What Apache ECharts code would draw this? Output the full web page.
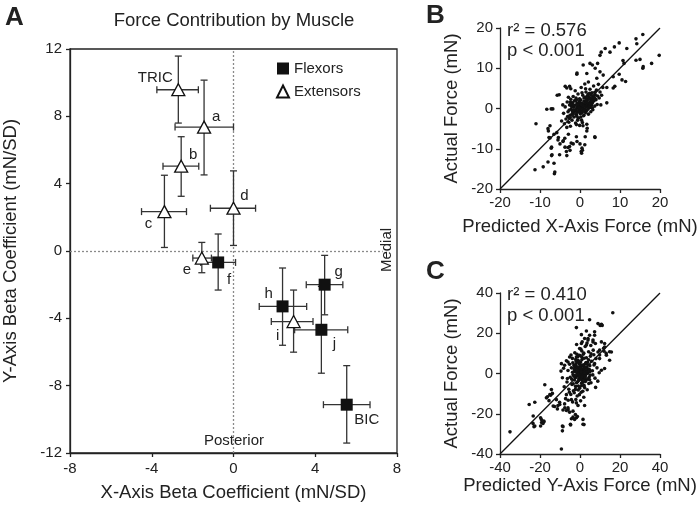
<!DOCTYPE html>
<html><head><meta charset="utf-8">
<script src="https://cdn.jsdelivr.net/npm/echarts/dist/echarts.min.js"></script>
<style>html,body{margin:0;padding:0;background:#fff}#c{width:699px;height:506px}</style>
</head><body><div id="c"></div>
<script>
// ---------- Panel A: beta coefficients per muscle ----------
const muscles     = ['TRIC','a','b','c','d','e','f','g','h','i','j','BIC'];
const muscleGroup = ['Extensors','Extensors','Extensors','Extensors','Extensors','Extensors','Flexors','Flexors','Flexors','Extensors','Flexors','Flexors'];
const betaX       = [-2.70,-1.44,-2.56,-3.38, 0.00,-1.55,-0.75, 4.46, 2.40, 2.94, 4.30, 5.54];
const betaY       = [ 9.58, 7.36, 5.04, 2.34, 2.54,-0.42,-0.68,-2.00,-3.29,-4.19,-4.68,-9.13];
const betaXLow    = [-3.75,-2.86,-3.45,-4.50,-1.13,-1.99,-1.60, 3.56, 1.26, 1.85, 2.99, 4.40];
const betaXHigh   = [-1.72, 0.00,-1.70,-2.30, 1.08,-1.08, 0.10, 5.35, 3.58, 3.89, 5.59, 6.68];
const betaYLow    = [ 7.60, 4.52, 3.25, 0.21, 0.33,-1.29,-2.32,-3.79,-5.60,-6.01,-7.26,-11.41];
const betaYHigh   = [11.58,10.15, 6.79, 4.50, 4.76, 0.51, 1.01,-0.26,-1.01,-2.32,-2.10,-6.81];
const axisATicks  = [-8,-4,0,4,8];
const axisAYTicks = [-12,-8,-4,0,4,8,12];

// ---------- Panel B: predicted vs actual X-axis force (mN) ----------
const panelBPoints = [
[15.7,18.4],[14.0,17.3],[14.2,16.1],[9.8,16.3],[11.7,14.9],[8.6,15.3],[7.5,14.0],[6.3,14.9],[5.3,14.0],[11.0,11.2],
[15.0,12.2],[14.0,12.0],[19.8,13.2],[17.9,11.2],[15.7,10.0],[11.4,6.7],[9.8,8.5],[8.3,7.9],[8.3,5.1],[6.7,5.2],
[6.7,1.4],[5.0,13.2],[3.1,10.8],[2.5,11.2],[4.4,11.2],[3.8,10.0],[0.8,10.8],[-0.8,8.5],[1.7,8.7],[5.0,9.1],
[5.8,8.3],[4.2,7.5],[-3.3,5.1],[-2.3,4.9],[-5.7,3.3],[-8.3,-0.2],[-11.0,-3.8],[-7.5,-4.3],[-7.9,-5.6],[-7.5,-7.3],
[-6.5,-6.4],[-5.8,-6.0],[-7.1,-9.6],[-7.1,-11.7],[-6.5,-13.6],[-6.4,-16.2],[-6.3,-15.8],[-9.2,-14.5],[-11.25,-15.2],[-3.3,-11.7],
[-2.5,-10.4],[0.6,-10.4],[0.4,-11.1],[-3.75,-9.6],[-5.0,-8.8],[-1.7,-8.8],[0.0,-8.8],[3.75,-7.2],[1.7,-5.6],[1.7,-3.9],
[-4.2,-8.0],[-5.4,-7.2],[-2.9,-6.4],[-3.3,-4.7],[-4.6,-3.1],[10.75,11.9],[15.8,10.4],[8.7,5.5],[10.5,7.1],[-0.75,8.8],
[-3.7,5.5],[-2.6,5.5],[-5.2,3.4],[-6.8,-0.1],[-4.3,0.9],[-7.2,-0.1],[-8.0,-5.0],[-7.75,-7.2],[-7.2,-9.85],[-7.0,-11.5],
[-5.1,-11.5],[-8.0,-13.3],[-3.4,-10.7],[-3.0,-9.7],[-2.6,-9.45],[-2.2,-8.6],[-3.8,-7.4],[-5.5,-7.8],[-4.25,-8.2],[-0.9,-7.0],
[-0.75,-8.2],[0.3,-10.7],[0.5,-9.85],[1.2,-9.0],[1.3,-7.0],[3.7,-7.0],[1.8,-4.9],[0.75,-4.3],[-0.1,-4.2],
[-4.1,-1.2],[-3.7,0.4],[-3.5,-2.6],[-3.2,1.6],[-3.0,-0.8],[-2.8,-3.4],[-2.6,0.9],[-2.5,-1.7],[-2.3,2.3],[-2.2,-0.2],
[-2.0,-2.9],[-1.9,1.4],[-1.8,-1.1],[-1.7,3.0],[-1.6,0.3],[-1.5,-2.1],[-1.4,1.9],[-1.3,-0.6],[-1.2,0.8],[-1.1,-3.6],
[-1.0,2.6],[-0.9,-1.5],[-0.8,0.1],[-0.7,1.3],[-0.6,-0.9],[-0.5,3.6],[-0.4,-2.4],[-0.3,0.6],[-0.2,1.7],[-0.1,-0.4],
[0.0,0.9],[0.1,-1.3],[0.2,2.1],[0.3,0.2],[0.4,-2.9],[0.5,1.2],[0.6,-0.6],[0.7,3.3],[0.8,0.5],[0.9,-1.8],
[1.0,1.8],[1.1,-0.2],[1.2,2.7],[1.3,0.9],[1.4,-1.0],[1.5,4.1],[1.6,1.4],[1.7,-0.5],[1.8,2.3],[1.9,0.6],
[2.0,3.5],[2.1,-1.4],[2.2,1.1],[2.3,2.9],[2.4,0.2],[2.5,4.8],[2.6,1.7],[2.7,-0.8],[2.8,2.4],[2.9,0.9],
[3.0,3.9],[3.1,1.4],[3.2,-0.3],[3.3,2.9],[3.4,5.6],[3.5,1.9],[3.7,0.6],[3.8,3.4],[4.0,2.2],[4.1,4.6],
[4.3,1.0],[4.4,3.1],[4.6,6.0],[4.8,2.6],[5.0,4.1],[5.2,0.9],[5.4,3.3],[5.7,5.2],[-3.9,-3.8],[-2.4,-4.4],
[-0.9,-4.0],[0.6,-3.5],[-2.9,2.8],[-1.2,4.4],[0.3,5.2],[1.2,6.1],[2.1,6.6],[-0.3,-0.1],[0.4,0.4],[0.9,1.0],
[1.5,0.3],[0.0,-0.3],[-0.6,0.4],[0.2,0.8],[1.1,0.7],[-0.2,-0.9],[0.7,-0.1],[1.8,1.2],[2.3,0.7],[-1.0,-0.3],
[0.5,-1.0],[-0.4,1.2],[1.3,1.5],[2.6,0.4],[3.0,2.1],[-1.5,-0.8],[-2.1,0.5],
[-2.7,-0.4],[-2.4,1.6],[-2.0,-1.4],[-1.7,0.9],[-1.4,-0.4],[-1.1,1.9],[-0.8,-1.9],[-0.5,1.0],[-0.2,0.2],[0.1,1.4],
[0.4,-0.8],[0.7,0.7],[1.0,2.6],[1.3,-0.3],[1.6,2.0],[1.9,1.5],[2.2,2.4],[2.5,1.1],[2.8,3.4],[3.1,0.2],
[3.4,2.2],[3.7,4.0],[-3.1,-2.0],[-2.6,-2.4],[-0.6,-2.9],[0.2,-2.1],[1.0,-1.6],[2.0,-0.1],[0.5,3.9],[1.4,4.9],
[-0.9,2.2],[0.3,1.0],[1.7,3.0],[2.9,1.8],[-1.9,-0.6],[0.9,-0.6],[-0.1,2.4],[2.4,3.8],[3.6,2.7],[-2.2,1.1]
];
const panelBTicks = [-20,-10,0,10,20];

// ---------- Panel C: predicted vs actual Y-axis force (mN) ----------
const panelCPoints = [
[16.4,30.2],[4.8,26.7],[-1.8,22.8],[10.1,23.9],[11.1,23.9],[0.7,19.3],[3.2,21.1],[4.0,17.4],[7.3,19.0],[6.5,15.7],
[12.3,14.9],[11.8,12.5],[14.8,10.8],[13.1,10.0],[9.8,11.6],[9.8,9.2],[-17.6,-5.6],[-14.3,-8.0],[-15.1,-10.5],[-16.8,-12.1],
[-11.8,-13.0],[-13.4,-16.2],[-22.6,-14.3],[-25.4,-15.4],[-35.0,-29.0],[-23.4,-21.1],[-22.6,-26.1],[-19.7,-22.0],[-19.2,-24.4],[-18.1,-23.6],
[-9.3,-37.5],[-8.8,-26.1],[-8.8,-28.5],[-3.5,-18.7],[-2.7,-22.8],[-1.8,-22.0],[-4.8,-25.2],[1.5,-22.8],[1.5,-25.2],[-7.6,-17.0],
[-6.0,-17.9],[-10.1,-15.4],[-4.3,-13.0],[-1.8,-14.6],[-6.8,-10.5],
[10.7,24.5],[9.0,24.8],[7.3,20.7],[4.8,19.0],[4.0,16.6],[3.2,14.1],[0.7,14.9],[-0.2,12.4],[2.3,17.4],[6.5,16.6],
[7.7,14.9],[10.7,15.7],[12.3,13.2],[12.0,11.1],[15.7,10.7],[13.2,9.1],[9.0,10.7],[-5.2,8.2],[-6.0,5.7],[-9.3,4.9],
[-7.7,4.1],[-1.8,8.2],[-1.0,6.6],[-2.7,3.3],[2.3,2.5],[7.3,4.9],[9.8,7.4],[10.7,1.6],[12.3,2.5],[14.8,6.6],
[-16.3,-11.6],[-14.7,-10.8],[-13.8,-9.9],[-15.5,-13.5],[-12.7,-16.4],[-11.0,-15.9],[-10.2,-14.3],[-11.3,-17.6],[-8.5,-18.1],[-6.8,-18.4],
[-6.0,-17.1],[-5.2,-19.2],[-7.7,-15.1],[-3.5,-21.7],[-2.3,-20.4],[-1.3,-21.4],[-4.3,-22.5],[2.3,-15.9],[-1.0,-15.9],[-23.5,-24.8],
[-23.0,-26.4],[-19.3,-22.9],[-19.7,-26.1],[-18.5,-24.8],[-18.0,-24.0],[-8.5,-26.4],[-4.7,-25.6],[2.0,-25.4],
[-6.5,-4.2],[-6.0,1.5],[-5.6,-7.8],[-5.2,4.6],[-4.9,-1.9],[-4.6,-10.4],[-4.3,2.8],[-4.0,-5.5],[-3.8,7.5],[-3.5,-0.6],
[-3.3,-8.6],[-3.0,4.1],[-2.8,-3.2],[-2.6,10.3],[-2.4,0.9],[-2.2,-6.4],[-2.0,6.2],[-1.8,-1.5],[-1.6,2.7],[-1.4,-11.2],
[-1.2,-4.1],[-1.0,8.4],[-0.8,0.3],[-0.6,-2.6],[-0.4,4.9],[-0.2,-7.3],[0.0,1.8],[0.2,-0.9],[0.4,12.1],[0.6,3.6],
[0.8,-4.8],[1.0,6.9],[1.2,0.6],[1.4,-2.2],[1.6,9.6],[1.8,2.4],[2.0,-5.9],[2.2,4.5],[2.4,-0.5],[2.6,13.4],
[2.8,1.2],[3.0,-3.4],[3.2,7.8],[3.4,3.1],[3.6,-8.1],[3.8,5.6],[4.0,0.2],[4.3,10.8],[4.6,-1.8],[4.9,3.9],
[5.2,8.6],[5.5,-4.6],[5.8,6.1],[6.2,1.4],[6.6,11.6],[7.0,4.2],[7.5,-2.3],[8.0,7.4],[8.5,2.8],[-7.2,-12.5],
[-5.9,-13.3],[-3.7,-14.1],[-2.1,-12.9],[0.3,-13.6],[1.9,-11.8],[-6.8,6.3],[-4.5,9.2],[-1.7,14.4],[1.1,15.8],[3.5,15.1],
[5.4,13.9],[-0.5,0.7],[0.5,-0.4],[1.3,1.9],[-1.1,-0.8],[-0.3,2.5],[0.9,0.1],[-0.9,1.3],[0.1,-1.7],[1.7,-0.9],
[-1.5,0.2],[0.7,1.1],[-0.1,3.3],[2.1,0.9],[-2.3,-2.1],[1.5,3.8],[-0.7,-3.5],[2.7,-1.1],[0.3,5.7],[-1.9,3.6],
[3.3,-0.1],[-2.7,1.9],[1.0,-3.1],[2.5,2.9],[-3.1,-1.3],[0.0,0.0],[0.6,2.2],[-0.4,-1.2],[1.8,-2.8],[-1.3,5.8],
[3.9,2.1],[-4.1,-2.8],[2.9,5.2],[-0.2,9.1],[4.4,-5.0],[-5.3,-9.3],[5.0,1.0],[-2.9,-9.6],[1.4,-8.8],[-3.6,5.3],
[6.4,-0.7],[-0.8,-6.2],[0.8,8.3],[-6.3,-2.5],[2.3,-7.0],[-8.8,-2.1],[-9.5,1.2],[-7.9,-6.6],[8.9,-3.8],[9.6,0.4],
[7.8,-6.9],[-8.2,2.6],[6.9,9.3],
[-3.4,-5.1],[-2.9,2.2],[-2.5,-1.0],[-2.1,7.1],[-1.7,-4.6],[-1.3,3.1],[-0.9,-8.2],[-0.5,6.0],[-0.1,-2.9],[0.3,2.6],
[0.7,-6.1],[1.1,4.2],[1.5,-1.1],[1.9,10.1],[2.3,0.4],[2.7,-4.0],[3.1,5.5],[3.5,1.0],[3.9,-2.6],[4.3,6.8],
[4.7,2.0],[5.1,-0.8],[5.5,9.8],[-3.7,0.6],[-0.3,-10.5],[0.9,11.2],[-1.5,9.6],[2.1,7.6],[-2.3,-7.9],[1.3,-4.4],
[0.0,4.4],[-0.7,-0.4],[0.4,0.9],[1.0,-1.6],[-1.2,1.6],[2.6,-2.1],[3.6,4.6],[-2.0,4.8],[0.6,-9.3],[4.8,-3.1]
];
const panelCTicks = [-40,-20,0,20,40];

// ---------- styling ----------
const FF = "'Liberation Sans', Arial, Helvetica, sans-serif";
const INK = '#222';
const labelOffsets = {
  TRIC:[-23,-12], a:[12,-10], b:[12,-11], c:[-16,12], d:[11,-12], e:[-15,12],
  f:[11,17], g:[14,-13], h:[-14,-13], i:[-16,14], j:[13,14], BIC:[20,15]
};

function axisStyle(ticks, fontSize, margin) {
  return {
    type:'value', min:ticks[0], max:ticks[ticks.length-1], interval:ticks[1]-ticks[0],
    axisLine:{show:true, onZero:false, lineStyle:{color:INK, width:1.3}},
    axisTick:{show:true, inside:false, length:4, lineStyle:{color:INK, width:1.3}},
    axisLabel:{show:true, fontSize, color:INK, fontFamily:FF, margin},
    splitLine:{show:false},
    nameLocation:'middle',
    nameTextStyle:{fontSize:18.5, color:INK, fontFamily:FF}
  };
}

const errData = muscles.map((m,i)=>[betaX[i],betaY[i],betaXLow[i],betaXHigh[i],betaYLow[i],betaYHigh[i]]);
function groupData(g) {
  return muscles.map((m,i)=>i).filter(i=>muscleGroup[i]===g).map(i=>({
    name: muscles[i], value:[betaX[i],betaY[i]],
    label:{offset:labelOffsets[muscles[i]]}
  }));
}
const pointLabel = {show:true, position:'inside', formatter:'{b}', color:INK, fontSize:15, fontFamily:FF};

function renderErr(params, api) {
  const x = api.value(0), y = api.value(1);
  const l = api.coord([api.value(2), y]), r = api.coord([api.value(3), y]);
  const lo = api.coord([x, api.value(4)]), hi = api.coord([x, api.value(5)]);
  const c = 3.5;
  const st = {stroke:'#333', lineWidth:1.3, fill:null};
  const ln = (x1,y1,x2,y2)=>({type:'line', shape:{x1,y1,x2,y2}, style:st});
  return {type:'group', children:[
    ln(l[0],l[1],r[0],r[1]), ln(l[0],l[1]-c,l[0],l[1]+c), ln(r[0],r[1]-c,r[0],r[1]+c),
    ln(lo[0],lo[1],hi[0],hi[1]), ln(lo[0]-c,lo[1],lo[0]+c,lo[1]), ln(hi[0]-c,hi[1],hi[0]+c,hi[1])
  ]};
}

function txt(text, x, y, size, opts) {
  return Object.assign({type:'text', x, y, silent:true, style:Object.assign({
    text, fill:INK, font:(opts&&opts.bold?'bold ':'')+size+'px '+FF,
    align:'left', verticalAlign:'middle', textAlign:'left', textVerticalAlign:'middle'
  }, (opts&&opts.style)||{})}, (opts&&opts.el)||{});
}

const xA = Object.assign(axisStyle(axisATicks,15,8), {gridIndex:0, name:'X-Axis Beta Coefficient (mN/SD)', nameGap:30});
const yA = Object.assign(axisStyle(axisAYTicks,15,8), {gridIndex:0, name:'Y-Axis Beta Coefficient (mN/SD)', nameGap:50});
const xB = Object.assign(axisStyle(panelBTicks,15,6), {gridIndex:1, name:'Predicted X-Axis Force (mN)', nameGap:28});
const yB = Object.assign(axisStyle(panelBTicks,15,7), {gridIndex:1, name:'Actual Force (mN)', nameGap:39});
const xC = Object.assign(axisStyle(panelCTicks,15,6), {gridIndex:2, name:'Predicted Y-Axis Force (mN)', nameGap:22});
const yC = Object.assign(axisStyle(panelCTicks,15,7), {gridIndex:2, name:'Actual Force (mN)', nameGap:39});

const chart = echarts.init(document.getElementById('c'), null, {renderer:'canvas'});
chart.setOption({
  animation:false,
  backgroundColor:'#fff',
  textStyle:{fontFamily:FF},
  grid:[
    {left:70, top:49, width:327, height:404, show:true, borderColor:INK, borderWidth:1.3, backgroundColor:'transparent', containLabel:false, outerBoundsMode:'none'},
    {left:500, top:28, width:160, height:161, containLabel:false, outerBoundsMode:'none'},
    {left:500, top:293, width:160, height:161, containLabel:false, outerBoundsMode:'none'}
  ],
  xAxis:[xA,xB,xC],
  yAxis:[yA,yB,yC],
  legend:{
    data:['Flexors','Extensors'], orient:'vertical', left:276, top:61,
    itemWidth:12, itemHeight:12, itemGap:8, padding:0,
    textStyle:{fontSize:15, color:INK, fontFamily:FF}, selectedMode:false
  },
  series:[
    {type:'custom', name:'err', xAxisIndex:0, yAxisIndex:0, renderItem:renderErr, data:errData,
     encode:{x:[0,2,3], y:[1,4,5]}, z:3, silent:true},
    {type:'scatter', name:'Flexors', xAxisIndex:0, yAxisIndex:0, symbol:'rect', symbolSize:12,
     itemStyle:{color:'#111', opacity:1}, data:groupData('Flexors'), label:pointLabel, z:5, silent:true,
     markLine:{silent:true, symbol:['none','none'], label:{show:false}, z:1,
       lineStyle:{color:'#8a8a8a', type:[2,2], width:1.3},
       data:[[{coord:[-8,0]},{coord:[7.3,0]}],[{coord:[0,-12]},{coord:[0,12]}]]}},
    {type:'scatter', name:'Extensors', xAxisIndex:0, yAxisIndex:0, symbol:'triangle', symbolSize:[13,12],
     itemStyle:{color:'#fff', borderColor:'#111', borderWidth:1.3, opacity:1}, data:groupData('Extensors'), label:pointLabel, z:5, silent:true},
    {type:'line', xAxisIndex:1, yAxisIndex:1, data:[[panelBTicks[0],panelBTicks[0]],[panelBTicks[4],panelBTicks[4]]],
     showSymbol:false, symbol:'none', lineStyle:{color:'#111', width:1.3}, silent:true, z:2},
    {type:'scatter', xAxisIndex:1, yAxisIndex:1, data:panelBPoints, symbolSize:3.6, itemStyle:{color:'#111', opacity:1}, silent:true, z:3},
    {type:'line', xAxisIndex:2, yAxisIndex:2, data:[[panelCTicks[0],panelCTicks[0]],[panelCTicks[4],panelCTicks[4]]],
     showSymbol:false, symbol:'none', lineStyle:{color:'#111', width:1.3}, silent:true, z:2},
    {type:'scatter', xAxisIndex:2, yAxisIndex:2, data:panelCPoints, symbolSize:3.6, itemStyle:{color:'#111', opacity:1}, silent:true, z:3}
  ],
  graphic:[
    txt('A', 5, 18, 26, {bold:true}),
    txt('B', 426, 16, 26, {bold:true}),
    txt('C', 426, 272, 26, {bold:true}),
    txt('Force Contribution by Muscle', 234, 21, 18.5, {style:{align:'center', textAlign:'center'}}),
    txt('Posterior', 234, 441, 15, {style:{align:'center', textAlign:'center'}}),
    txt('Medial', 387, 250, 15, {style:{align:'center', textAlign:'center'}, el:{rotation:Math.PI/2}}),
    txt('r² = 0.576', 507, 31, 18.5),
    txt('p < 0.001', 507, 51, 18.5),
    txt('r² = 0.410', 507, 295, 18.5),
    txt('p < 0.001', 507, 316, 18.5)
  ]
});
</script></body></html>
